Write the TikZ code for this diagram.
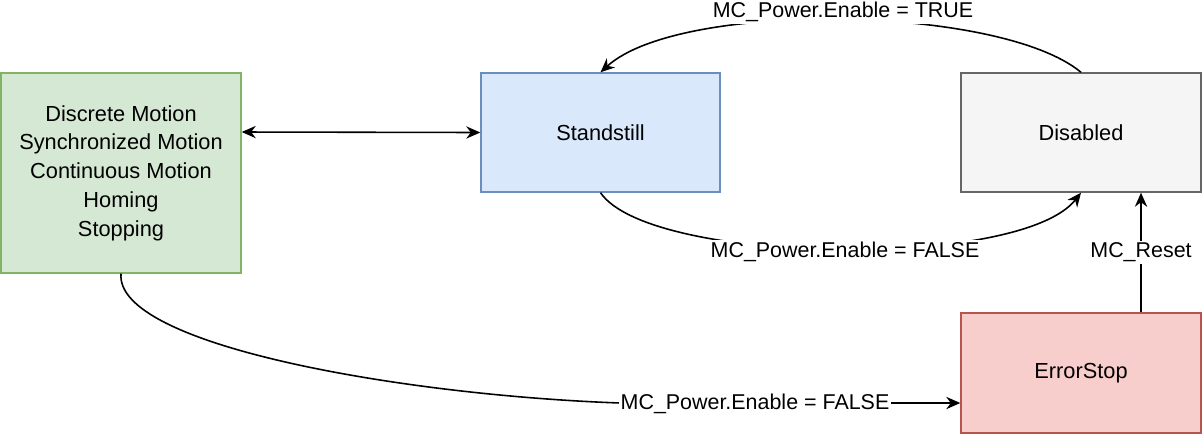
\documentclass[tikz,border=0pt]{standalone}
\usepackage{fontspec}
\setmainfont{Liberation Sans}
\usetikzlibrary{arrows.meta}
\definecolor{gf}{HTML}{D5E8D4}\definecolor{gs}{HTML}{82B366}
\definecolor{bf}{HTML}{DAE8FC}\definecolor{bs}{HTML}{6C8EBF}
\definecolor{kf}{HTML}{F5F5F5}\definecolor{ks}{HTML}{666666}
\definecolor{rf}{HTML}{F8CECC}\definecolor{rs}{HTML}{B85450}
\begin{document}
\begin{tikzpicture}[x=0.02cm,y=-0.02cm,
  box/.style={draw, line width=0.8pt, minimum width=240*0.02cm, align=center, font=\fontsize{12.4}{16.4}\selectfont},
  lbl/.style={fill=white, inner sep=1pt, font=\fontsize{12.2}{14}\selectfont},
  arr/.style={line width=0.9pt, -{Stealth[length=8pt,width=7pt]}}]
\useasboundingbox (0,0) rectangle (1202,434);
\node[box, fill=gf, draw=gs, minimum height=200*0.02cm] (g) at (121,173) {Discrete Motion\\Synchronized Motion\\Continuous Motion\\Homing\\Stopping};
\node[box, fill=bf, draw=bs, minimum height=119*0.02cm, minimum width=239*0.02cm] (s) at (600.5,132.5) {Standstill};
\node[box, fill=kf, draw=ks, minimum height=119*0.02cm] (d) at (1081,132.5) {Disabled};
\node[box, fill=rf, draw=rs, minimum height=120*0.02cm] (e) at (1081,373) {ErrorStop};
\draw[line width=0.9pt, {Stealth[length=8pt,width=7pt]}-{Stealth[length=8pt,width=7pt]}] (g.east |- 0,132) -- (s.west);
\draw[arr] (d.north) .. controls (1000,5) and (680,0) .. (s.north);
\node[lbl] (t1) at (843,12) {MC\_Power.Enable = TRUE};
\draw[arr] (s.south) .. controls (650,265) and (1020,270) .. (d.south);
\node[lbl] (t2) at (845,252) {MC\_Power.Enable = FALSE};
\draw[arr] (e.north -| 1141,0) -- (d.south -| 1141,0) node[lbl, midway] (t3) {MC\_Reset};
\draw[arr] (g.south) .. controls (115,345) and (400,395) .. (620,403) -- (e.west |- 0,403);
\node[lbl] (t4) at (755,404) {MC\_Power.Enable = FALSE};
\end{tikzpicture}
\end{document}
